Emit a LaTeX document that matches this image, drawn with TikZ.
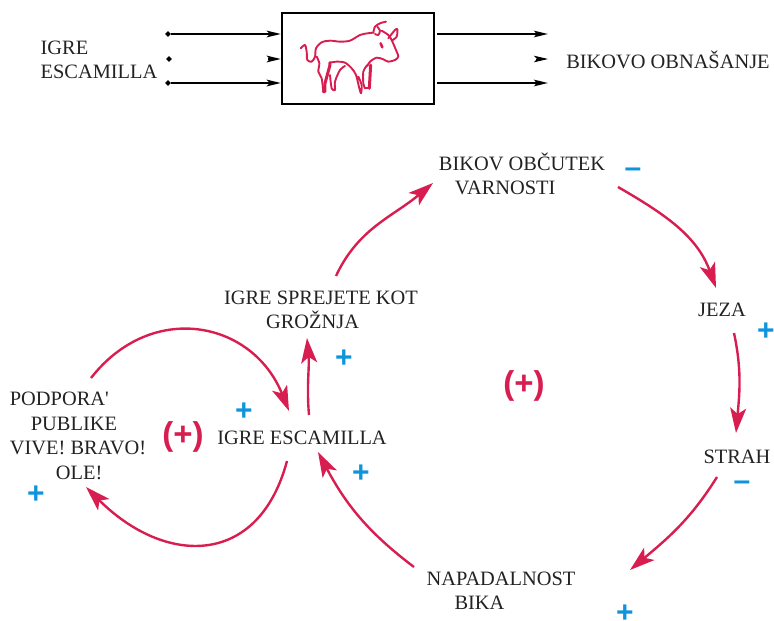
\documentclass[tikz,border=0pt]{standalone}
\usepackage{fontspec}
\usetikzlibrary{arrows.meta}
\usetikzlibrary{shapes.geometric}
\setmainfont{Liberation Serif}
\newfontfamily\signfont{Liberation Sans}
\definecolor{loopred}{HTML}{D81E50}
\definecolor{signblue}{HTML}{0F94DC}
\definecolor{inktext}{HTML}{222222}

\tikzset{
    label/.style={inner sep=0pt, text=inktext, align=left, font=\fontsize{20.4}{24.5}\selectfont},
    link/.style={draw=loopred, line width=2.4pt, -{Stealth[length=25pt,width=16pt,inset=6pt]}},
    flow/.style={draw=black, line width=2.4pt, -{Stealth[length=14pt,width=6.5pt,inset=3pt]}},
    dotpin/.style={diamond, fill=black, inner sep=0pt, minimum size=6pt},
    plussign/.style={inner sep=0pt, text=signblue, font=\signfont\bfseries\fontsize{30}{30}\selectfont},
    loopsign/.style={inner sep=0pt, text=loopred, font=\signfont\bfseries\fontsize{33}{33}\selectfont},
    bullline/.style={draw=loopred, line width=1.9pt, line cap=round, line join=round}
}

\begin{document}
\begin{tikzpicture}[x=1pt,y=-1pt]
    \useasboundingbox (0,0) rectangle (774,621);

    % the black box with the bull
    \node[draw=black, line width=2.2pt, minimum width=152pt, minimum height=91pt, inner sep=0pt] (bull) at (358,58.5) {};
    \begin{scope}[shift={(280,10)}, x=0.3333pt, y=-0.3333pt]
        \draw[bullline] plot[smooth] coordinates {(62,115) (75,105) (80,125) (82,150) (95,155) (105,140) (108,115) (125,97) (150,92) (180,95) (210,92) (240,75) (262,70) (280,68)};
        \draw[bullline] plot[smooth] coordinates {(280,68) (285,50) (300,40) (318,35)};
        \draw[bullline] plot[smooth] coordinates {(292,50) (300,62) (295,75) (285,72)};
        \draw[bullline] plot[smooth] coordinates {(305,62) (325,75) (335,90) (350,125) (355,140) (345,150) (325,155) (310,148) (290,143) (270,155) (262,168)};
        \draw[bullline] plot[smooth] coordinates {(325,85) (345,60) (352,58) (350,80) (335,92)};
        \draw[bullline, line width=2.6pt] (302,100) -- (307,112);
        \draw[bullline] plot[smooth] coordinates {(262,165) (250,185) (250,220) (255,235)};
        \draw[bullline, line width=3pt] (272,165) -- (268,235);
        \draw[bullline] (255,235) -- (268,235);
        \draw[bullline] plot[smooth] coordinates {(150,158) (170,155) (195,158) (215,175) (228,195) (238,235) (243,250) (245,225) (235,200)};
        \draw[bullline] plot[smooth] coordinates {(110,140) (118,160) (115,185) (125,205) (130,245)};
        \draw[bullline, line width=3pt] (130,245) -- (135,245) -- (135,220) -- (150,165) -- (150,158);
        \draw[bullline] plot[smooth] coordinates {(150,195) (155,235) (165,240) (165,215) (180,180) (195,168)};
    \end{scope}

    % inputs and outputs of the box
    \node[label] (inlabel) at (99,60) {IGRE\\ESCAMILLA};
    \node[label] (outlabel) at (668,59.5) {BIKOVO OBNAŠANJE};
    \node[dotpin] (inA) at (168,34) {};
    \node[dotpin] (inB) at (169,59) {};
    \node[dotpin] (inC) at (168,83) {};
    \coordinate (tipInB) at (268,59);
    \coordinate (outA) at (548,34);
    \coordinate (tipOutA) at (536,59);
    \coordinate (tipOutB) at (548,59);
    \coordinate (outC) at (548,83);
    \draw[flow] (inA) -- (inA -| bull.west);
    \draw[flow] (inC) -- (inC -| bull.west);
    \draw[flow] (tipInB) -- (tipInB -| bull.west);
    \draw[flow] (outA -| bull.east) ++(2,0) -- (outA);
    \draw[flow] (outC -| bull.east) ++(2,0) -- (outC);
    \draw[flow, line width=1pt] (tipOutA) -- (tipOutB);

    % variables of the two loops
    \node[label] (podpora) at (78,436) {PODPORA\textquotesingle\\\hspace*{21pt}PUBLIKE\\VIVE! BRAVO!\\\hspace*{46pt}OLE!};
    \node[label] (igre) at (302,438) {IGRE ESCAMILLA};
    \node[label] (sprejete) at (321,310) {IGRE SPREJETE KOT\\\hspace*{42pt}GROŽNJA};
    \node[label] (bikov) at (522,174) {BIKOV OBČUTEK\\\hspace*{16pt}VARNOSTI};
    \node[label] (jeza) at (722,310) {JEZA};
    \node[label] (strah) at (737,457) {STRAH};
    \node[label] (napadalnost) at (501,591) {NAPADALNOST\\\hspace*{28pt}BIKA};

    % causal links
    \draw[link] ([shift={(13,-58)}]podpora.center) to[out=52,in=112,looseness=1.25] ([shift={(-13,-27)}]igre.center);
    \draw[link] ([shift={(-15,23)}]igre.center) to[out=-105,in=-45,looseness=1.4] ([shift={(8,51)}]podpora.center);
    \draw[link] ([shift={(7,-23)}]igre.center) to[out=95,in=-85] ([shift={(-14,28)}]sprejete.center);
    \draw[link] ([shift={(15,-34)}]sprejete.center) to[out=65,in=220] ([shift={(-89,9)}]bikov.center);
    \draw[link] ([shift={(96,13)}]bikov.center) to[out=-30,in=110] ([shift={(-6,-22)}]jeza.center);
    \draw[link] ([shift={(12,23)}]jeza.center) to[out=-78,in=85] ([shift={(-1,-24)}]strah.center);
    \draw[link] ([shift={(-20,20)}]strah.center) to[out=-122,in=40] ([shift={(129,-21)}]napadalnost.center);
    \draw[link] ([shift={(-87,-24)}]napadalnost.center) to[out=143,in=-62] ([shift={(16,14)}]igre.center);

    % polarity signs
    \foreach \signname/\x/\y in {plusA/344/359, plusB/244/412, plusC/361/474, plusD/36/495, plusE/766/332, plusF/625/614}
        \node[plussign] (\signname) at (\x,\y) {+};
    \foreach \signname/\x/\y in {minusA/633/173, minusB/742/486}
        \node[plussign] (\signname) at (\x,\y) {–};
    \node[loopsign] (loopA) at (183,437) {(+)};
    \node[loopsign] (loopB) at (524,386) {(+)};
\end{tikzpicture}
\end{document}
